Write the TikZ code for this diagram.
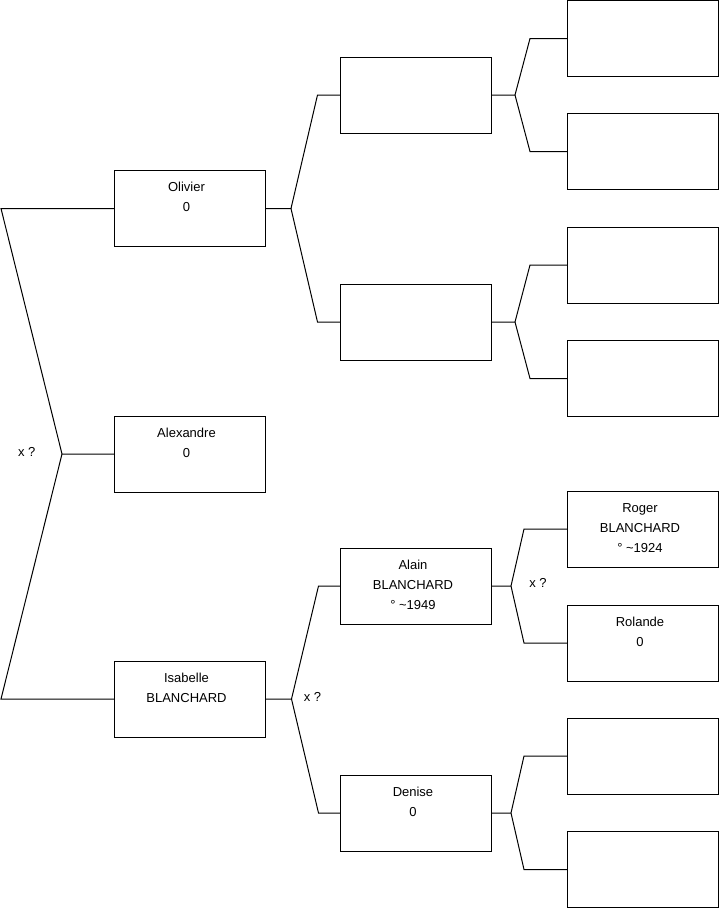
\documentclass[tikz,border=0pt]{standalone}
\usepackage{fontspec}
\setmainfont{Liberation Sans}
\newcommand{\ptext}[1]{\parbox[c][76pt][t]{151pt}{\centering\rightskip=6pt plus 1fil\relax\rule{0pt}{21pt}#1}}
\tikzset{
  person/.style={draw=black, line width=1pt, minimum width=151pt, minimum height=76pt,
    inner sep=0pt, outer sep=0pt, font=\fontsize{13}{20}\selectfont},
  link/.style={draw=black, line width=1pt},
  lab/.style={font=\fontsize{13}{16}\selectfont, inner sep=0pt}
}
\begin{document}
\begin{tikzpicture}[x=1pt,y=-1pt]
\useasboundingbox (0,0) rectangle (719,908);
% column 1
\node[person] (olivier) at (189.5,208.5) {\ptext{Olivier\\0}};
\node[person] (alex) at (189.5,454) {\ptext{Alexandre\\0}};
\node[person] (isabelle) at (189.5,699) {\ptext{Isabelle\\BLANCHARD}};
% column 2
\node[person] (c21) at (416,95) {};
\node[person] (c22) at (416,322) {};
\node[person] (alain) at (416,586) {\ptext{Alain\\BLANCHARD\\° \textasciitilde1949}};
\node[person] (denise) at (416,813) {\ptext{Denise\\0}};
% column 3
\node[person] (c31) at (643,38.5) {};
\node[person] (c32) at (643,151.5) {};
\node[person] (c33) at (643,265) {};
\node[person] (c34) at (643,378.5) {};
\node[person] (roger) at (643,529) {\ptext{Roger\\BLANCHARD\\° \textasciitilde1924}};
\node[person] (rolande) at (643,643) {\ptext{Rolande\\0}};
\node[person] (c37) at (643,756) {};
\node[person] (c38) at (643,869.5) {};
% root connectors
\coordinate (rb) at ([xshift=-52pt]alex.west);
\coordinate (re1) at ([xshift=-113pt]olivier.west);
\coordinate (re2) at ([xshift=-113pt]isabelle.west);
\draw[link] (alex.west) -- (rb) -- (re1) -- (olivier.west);
\draw[link] (rb) -- (re2) -- (isabelle.west);
\node[lab] (x1) at (26.7,452) {x ?};
% Olivier
\coordinate (ob) at ([xshift=26pt]olivier.east);
\draw[link] (olivier.east) -- (ob) -- ([xshift=-23pt]c21.west) -- (c21.west);
\draw[link] (ob) -- ([xshift=-23pt]c22.west) -- (c22.west);
% Isabelle
\coordinate (ib) at ([xshift=26.5pt]isabelle.east);
\draw[link] (isabelle.east) -- (ib) -- ([xshift=-22pt]alain.west) -- (alain.west);
\draw[link] (ib) -- ([xshift=-22pt]denise.west) -- (denise.west);
\node[lab] (x2) at (312.5,697) {x ?};
% c21
\coordinate (b21) at ([xshift=23.5pt]c21.east);
\draw[link] (c21.east) -- (b21) -- ([xshift=-37.5pt]c31.west) -- (c31.west);
\draw[link] (b21) -- ([xshift=-37.5pt]c32.west) -- (c32.west);
% c22
\coordinate (b22) at ([xshift=23.5pt]c22.east);
\draw[link] (c22.east) -- (b22) -- ([xshift=-37.5pt]c33.west) -- (c33.west);
\draw[link] (b22) -- ([xshift=-37.5pt]c34.west) -- (c34.west);
% Alain
\coordinate (ba) at ([xshift=19.5pt]alain.east);
\draw[link] (alain.east) -- (ba) -- ([xshift=-43.5pt]roger.west) -- (roger.west);
\draw[link] (ba) -- ([xshift=-43.5pt]rolande.west) -- (rolande.west);
\node[lab] (x3) at (538,583) {x ?};
% Denise
\coordinate (bd) at ([xshift=19.5pt]denise.east);
\draw[link] (denise.east) -- (bd) -- ([xshift=-43.5pt]c37.west) -- (c37.west);
\draw[link] (bd) -- ([xshift=-43.5pt]c38.west) -- (c38.west);
\end{tikzpicture}
\end{document}
